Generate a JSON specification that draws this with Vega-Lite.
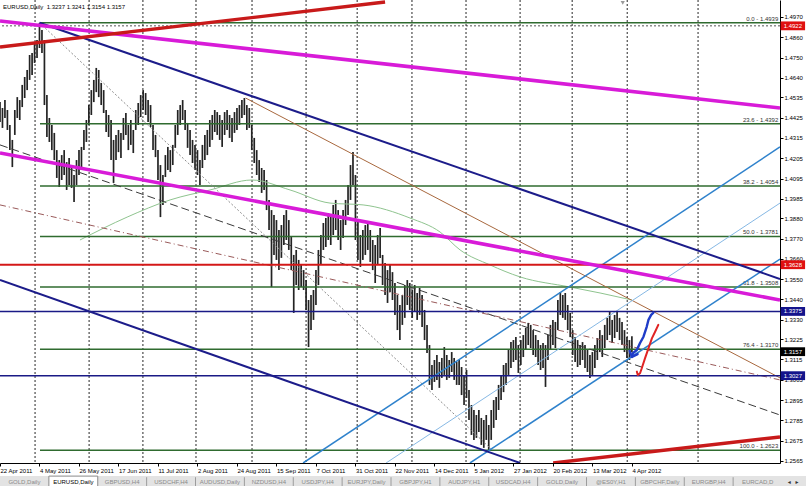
{
"$schema":"https://vega.github.io/schema/vega-lite/v6.json",
"width":780,"height":463,
"autosize":{"type":"none"},
"padding":{"left":0,"top":0,"right":26,"bottom":23},
"background":"white",
"config":{"view":{"stroke":null},"font":"Liberation Sans"},
"datasets":{
"bars":[{"n":0,"h":1.4509,"l":1.4401},{"n":1,"h":1.4477,"l":1.4369},{"n":2,"h":1.452,"l":1.4423},{"n":3,"h":1.4466,"l":1.4358},{"n":4,"h":1.4385,"l":1.4249},{"n":5,"h":1.4304,"l":1.4157},{"n":6,"h":1.4466,"l":1.4331},{"n":7,"h":1.4536,"l":1.4423},{"n":8,"h":1.452,"l":1.4412},{"n":9,"h":1.4602,"l":1.4482},{"n":10,"h":1.4645,"l":1.4531},{"n":11,"h":1.4683,"l":1.4574},{"n":12,"h":1.4764,"l":1.4629},{"n":13,"h":1.4775,"l":1.4656},{"n":14,"h":1.4834,"l":1.4721},{"n":15,"h":1.4845,"l":1.4748},{"n":16,"h":1.4938,"l":1.4802},{"n":17,"h":1.49,"l":1.4775},{"n":18,"h":1.4845,"l":1.4493},{"n":19,"h":1.4547,"l":1.432},{"n":20,"h":1.4423,"l":1.4293},{"n":21,"h":1.4385,"l":1.4249},{"n":22,"h":1.4342,"l":1.4195},{"n":23,"h":1.4249,"l":1.4098},{"n":24,"h":1.4195,"l":1.4049},{"n":25,"h":1.4222,"l":1.4087},{"n":26,"h":1.4249,"l":1.4114},{"n":27,"h":1.4184,"l":1.4033},{"n":28,"h":1.4206,"l":1.406},{"n":29,"h":1.4168,"l":1.4044},{"n":30,"h":1.4114,"l":1.3968},{"n":31,"h":1.4195,"l":1.406},{"n":32,"h":1.4249,"l":1.4114},{"n":33,"h":1.4266,"l":1.4141},{"n":34,"h":1.4358,"l":1.4249},{"n":35,"h":1.4412,"l":1.4293},{"n":36,"h":1.4493,"l":1.4385},{"n":37,"h":1.4574,"l":1.4439},{"n":38,"h":1.4629,"l":1.4509},{"n":39,"h":1.4694,"l":1.4563},{"n":40,"h":1.4683,"l":1.4536},{"n":41,"h":1.4613,"l":1.4493},{"n":42,"h":1.4574,"l":1.445},{"n":43,"h":1.4466,"l":1.4347},{"n":44,"h":1.4439,"l":1.432},{"n":45,"h":1.4412,"l":1.4195},{"n":46,"h":1.4304,"l":1.4071},{"n":47,"h":1.4331,"l":1.4195},{"n":48,"h":1.4358,"l":1.4238},{"n":49,"h":1.4342,"l":1.4206},{"n":50,"h":1.4423,"l":1.4304},{"n":51,"h":1.445,"l":1.4331},{"n":52,"h":1.4385,"l":1.4249},{"n":53,"h":1.4412,"l":1.4277},{"n":54,"h":1.4358,"l":1.4233},{"n":55,"h":1.4466,"l":1.4358},{"n":56,"h":1.4504,"l":1.4385},{"n":57,"h":1.4547,"l":1.4428},{"n":58,"h":1.4574,"l":1.4466},{"n":59,"h":1.4558,"l":1.4439},{"n":60,"h":1.452,"l":1.4401},{"n":61,"h":1.4493,"l":1.4374},{"n":62,"h":1.4385,"l":1.4249},{"n":63,"h":1.4331,"l":1.4211},{"n":64,"h":1.4249,"l":1.4087},{"n":65,"h":1.4168,"l":1.3886},{"n":66,"h":1.4114,"l":1.3952},{"n":67,"h":1.4222,"l":1.4103},{"n":68,"h":1.4266,"l":1.4141},{"n":69,"h":1.4249,"l":1.413},{"n":70,"h":1.4277,"l":1.4168},{"n":71,"h":1.4385,"l":1.4261},{"n":72,"h":1.4466,"l":1.4331},{"n":73,"h":1.4493,"l":1.4385},{"n":74,"h":1.452,"l":1.4412},{"n":75,"h":1.4466,"l":1.4358},{"n":76,"h":1.4396,"l":1.4261},{"n":77,"h":1.4358,"l":1.4222},{"n":78,"h":1.4304,"l":1.4179},{"n":79,"h":1.4277,"l":1.4141},{"n":80,"h":1.4249,"l":1.4114},{"n":81,"h":1.4195,"l":1.406},{"n":82,"h":1.4277,"l":1.4152},{"n":83,"h":1.4331,"l":1.4195},{"n":84,"h":1.4358,"l":1.4222},{"n":85,"h":1.4412,"l":1.4266},{"n":86,"h":1.4439,"l":1.4304},{"n":87,"h":1.4466,"l":1.4347},{"n":88,"h":1.4455,"l":1.4331},{"n":89,"h":1.4439,"l":1.4304},{"n":90,"h":1.4412,"l":1.4266},{"n":91,"h":1.4455,"l":1.4331},{"n":92,"h":1.4466,"l":1.4358},{"n":93,"h":1.4439,"l":1.4315},{"n":94,"h":1.4423,"l":1.4293},{"n":95,"h":1.4455,"l":1.4342},{"n":96,"h":1.4477,"l":1.4358},{"n":97,"h":1.4493,"l":1.4385},{"n":98,"h":1.452,"l":1.4423},{"n":99,"h":1.4531,"l":1.4439},{"n":100,"h":1.4493,"l":1.4358},{"n":101,"h":1.4477,"l":1.4369},{"n":102,"h":1.4385,"l":1.4249},{"n":103,"h":1.4315,"l":1.4179},{"n":104,"h":1.4249,"l":1.4114},{"n":105,"h":1.4195,"l":1.4076},{"n":106,"h":1.4152,"l":1.4017},{"n":107,"h":1.4141,"l":1.4033},{"n":108,"h":1.4087,"l":1.3924},{"n":109,"h":1.3979,"l":1.3816},{"n":110,"h":1.3924,"l":1.3507},{"n":111,"h":1.3897,"l":1.3681},{"n":112,"h":1.387,"l":1.3654},{"n":113,"h":1.3816,"l":1.3599},{"n":114,"h":1.3843,"l":1.3665},{"n":115,"h":1.3897,"l":1.3735},{"n":116,"h":1.3924,"l":1.3762},{"n":117,"h":1.387,"l":1.3708},{"n":118,"h":1.3778,"l":1.3599},{"n":119,"h":1.3681,"l":1.3367},{"n":120,"h":1.3708,"l":1.3518},{"n":121,"h":1.3654,"l":1.3491},{"n":122,"h":1.3627,"l":1.3507},{"n":123,"h":1.3599,"l":1.3491},{"n":124,"h":1.3545,"l":1.3383},{"n":125,"h":1.3437,"l":1.3182},{"n":126,"h":1.3464,"l":1.3274},{"n":127,"h":1.3491,"l":1.3329},{"n":128,"h":1.3599,"l":1.341},{"n":129,"h":1.3708,"l":1.3518},{"n":130,"h":1.3789,"l":1.3627},{"n":131,"h":1.3854,"l":1.3708},{"n":132,"h":1.3881,"l":1.3724},{"n":133,"h":1.3908,"l":1.3762},{"n":134,"h":1.3897,"l":1.3735},{"n":135,"h":1.3952,"l":1.3789},{"n":136,"h":1.3979,"l":1.3816},{"n":137,"h":1.3924,"l":1.3762},{"n":138,"h":1.387,"l":1.3708},{"n":139,"h":1.3924,"l":1.3773},{"n":140,"h":1.3979,"l":1.3843},{"n":141,"h":1.406,"l":1.3897},{"n":142,"h":1.4168,"l":1.3979},{"n":143,"h":1.4238,"l":1.406},{"n":144,"h":1.4114,"l":1.3762},{"n":145,"h":1.387,"l":1.3654},{"n":146,"h":1.3789,"l":1.3616},{"n":147,"h":1.3816,"l":1.3654},{"n":148,"h":1.3843,"l":1.3681},{"n":149,"h":1.3854,"l":1.3708},{"n":150,"h":1.3816,"l":1.3643},{"n":151,"h":1.3762,"l":1.3599},{"n":152,"h":1.3735,"l":1.3529},{"n":153,"h":1.3789,"l":1.3627},{"n":154,"h":1.3827,"l":1.3665},{"n":155,"h":1.3681,"l":1.3518},{"n":156,"h":1.3638,"l":1.3464},{"n":157,"h":1.3599,"l":1.3421},{"n":158,"h":1.3627,"l":1.348},{"n":159,"h":1.3588,"l":1.3437},{"n":160,"h":1.3529,"l":1.3356},{"n":161,"h":1.3464,"l":1.3274},{"n":162,"h":1.341,"l":1.322},{"n":163,"h":1.3464,"l":1.3302},{"n":164,"h":1.3518,"l":1.334},{"n":165,"h":1.3545,"l":1.341},{"n":166,"h":1.3529,"l":1.3383},{"n":167,"h":1.3491,"l":1.334},{"n":168,"h":1.3518,"l":1.3372},{"n":169,"h":1.3475,"l":1.3329},{"n":170,"h":1.3502,"l":1.3356},{"n":171,"h":1.3464,"l":1.3291},{"n":172,"h":1.3383,"l":1.322},{"n":173,"h":1.3302,"l":1.315},{"n":174,"h":1.3193,"l":1.2977},{"n":175,"h":1.3085,"l":1.2949},{"n":176,"h":1.3112,"l":1.2993},{"n":177,"h":1.3139,"l":1.3004},{"n":178,"h":1.3101,"l":1.2961},{"n":179,"h":1.3123,"l":1.3015},{"n":180,"h":1.3182,"l":1.3031},{"n":181,"h":1.3139,"l":1.3004},{"n":182,"h":1.3112,"l":1.3015},{"n":183,"h":1.3155,"l":1.3047},{"n":184,"h":1.3123,"l":1.3004},{"n":185,"h":1.3101,"l":1.2977},{"n":186,"h":1.3112,"l":1.2977},{"n":187,"h":1.3074,"l":1.2922},{"n":188,"h":1.3031,"l":1.2868},{"n":189,"h":1.3058,"l":1.2906},{"n":190,"h":1.2949,"l":1.2787},{"n":191,"h":1.2868,"l":1.2706},{"n":192,"h":1.2841,"l":1.2679},{"n":193,"h":1.2814,"l":1.269},{"n":194,"h":1.2841,"l":1.2722},{"n":195,"h":1.2798,"l":1.2652},{"n":196,"h":1.2787,"l":1.2636},{"n":197,"h":1.2814,"l":1.2679},{"n":198,"h":1.276,"l":1.2623},{"n":199,"h":1.2841,"l":1.2679},{"n":200,"h":1.2895,"l":1.2744},{"n":201,"h":1.2911,"l":1.2787},{"n":202,"h":1.2977,"l":1.2841},{"n":203,"h":1.3031,"l":1.2895},{"n":204,"h":1.3085,"l":1.2938},{"n":205,"h":1.3096,"l":1.2977},{"n":206,"h":1.3166,"l":1.3031},{"n":207,"h":1.3209,"l":1.3069},{"n":208,"h":1.322,"l":1.3101},{"n":209,"h":1.3236,"l":1.3112},{"n":210,"h":1.3193,"l":1.3042},{"n":211,"h":1.322,"l":1.3085},{"n":212,"h":1.3247,"l":1.3128},{"n":213,"h":1.3286,"l":1.3166},{"n":214,"h":1.3313,"l":1.3193},{"n":215,"h":1.3302,"l":1.3177},{"n":216,"h":1.3274,"l":1.3139},{"n":217,"h":1.3247,"l":1.3128},{"n":218,"h":1.322,"l":1.3085},{"n":219,"h":1.3193,"l":1.3058},{"n":220,"h":1.3204,"l":1.3069},{"n":221,"h":1.3193,"l":1.2966},{"n":222,"h":1.3247,"l":1.3112},{"n":223,"h":1.3302,"l":1.3166},{"n":224,"h":1.3329,"l":1.3193},{"n":225,"h":1.3318,"l":1.3177},{"n":226,"h":1.3437,"l":1.3274},{"n":227,"h":1.348,"l":1.3356},{"n":228,"h":1.3464,"l":1.334},{"n":229,"h":1.3475,"l":1.3329},{"n":230,"h":1.341,"l":1.3274},{"n":231,"h":1.3367,"l":1.3236},{"n":232,"h":1.3274,"l":1.3139},{"n":233,"h":1.3236,"l":1.3101},{"n":234,"h":1.322,"l":1.3074},{"n":235,"h":1.3193,"l":1.3085},{"n":236,"h":1.3209,"l":1.3112},{"n":237,"h":1.3193,"l":1.3069},{"n":238,"h":1.3166,"l":1.3047},{"n":239,"h":1.3139,"l":1.3015},{"n":240,"h":1.3155,"l":1.3031},{"n":241,"h":1.3193,"l":1.3069},{"n":242,"h":1.3231,"l":1.3112},{"n":243,"h":1.3274,"l":1.3155},{"n":244,"h":1.3247,"l":1.3128},{"n":245,"h":1.3302,"l":1.3177},{"n":246,"h":1.334,"l":1.322},{"n":247,"h":1.3372,"l":1.3247},{"n":248,"h":1.3329,"l":1.3204},{"n":249,"h":1.3356,"l":1.3231},{"n":250,"h":1.3372,"l":1.3263},{"n":251,"h":1.334,"l":1.322},{"n":252,"h":1.3318,"l":1.3193},{"n":253,"h":1.3274,"l":1.3155},{"n":254,"h":1.3236,"l":1.3123},{"n":255,"h":1.322,"l":1.3112},{"n":256,"h":1.3241,"l":1.3154}],
"grid":[{"n":14.2},{"n":36.1},{"n":57.9},{"n":79.4},{"n":102.1},{"n":124.0},{"n":144.7},{"n":166.9},{"n":188.8},{"n":210.7},{"n":231.8},{"n":254.1},{"n":282.8}],
"ma":[{"n":32.4,"p":1.3762},{"n":51.5,"p":1.3886},{"n":68.9,"p":1.3979},{"n":85.1,"p":1.4033},{"n":102.1,"p":1.4087},{"n":117.5,"p":1.4033},{"n":133.7,"p":1.3962},{"n":147.1,"p":1.3952},{"n":166.1,"p":1.3881},{"n":178.3,"p":1.3805},{"n":186.4,"p":1.3708},{"n":198.5,"p":1.3627},{"n":210.7,"p":1.3562},{"n":231,"p":1.3507},{"n":243.1,"p":1.3475},{"n":256,"p":1.3437}],
"fib":[{"lab":"0.0 - 1.4939","p":1.4939},{"lab":"23.6 - 1.4392","p":1.4392},{"lab":"38.2 - 1.4054","p":1.4054},{"lab":"50.0 - 1.3781","p":1.3781},{"lab":"61.8 - 1.3508","p":1.3508},{"lab":"76.4 - 1.3170","p":1.317},{"lab":"100.0 - 1.2623","p":1.2623}],
"levels":[{"p":1.4922,"kind":"dot"},{"p":1.3628,"kind":"red"},{"p":1.3375,"kind":"navy"},{"p":1.3027,"kind":"navy"}],
"trend":[{"id":"redTop","n1":0,"p1":1.4807,"n2":156,"p2":1.5051},{"id":"redBot","n1":224.1,"p1":1.2554,"n2":316,"p2":1.2695},{"id":"magTop","n1":0,"p1":1.4948,"n2":316,"p2":1.4477},{"id":"magBot","n1":0,"p1":1.4233,"n2":316,"p2":1.3437},{"id":"navyUp","n1":16,"p1":1.4939,"n2":316,"p2":1.3551},{"id":"navyLow","n1":0,"p1":1.3545,"n2":210.7,"p2":1.2554},{"id":"chanTop","n1":122.8,"p1":1.2554,"n2":316,"p2":1.4266},{"id":"chanMid","n1":156.4,"p1":1.2554,"n2":316,"p2":1.3962},{"id":"chanLow","n1":190.4,"p1":1.2554,"n2":316,"p2":1.3659},{"id":"brown","n1":99.5,"p1":1.4531,"n2":316,"p2":1.3015},{"id":"dash","n1":0,"p1":1.4277,"n2":316,"p2":1.2814},{"id":"dashdot","n1":0,"p1":1.3952,"n2":316,"p2":1.3004},{"id":"dotted","n1":16,"p1":1.4939,"n2":199.5,"p2":1.2623}],
"drawn":[{"id":"blue","k":0,"n":256.0,"p":1.313},{"id":"blue","k":1,"n":256.5,"p":1.315},{"id":"blue","k":2,"n":258.0,"p":1.3166},{"id":"blue","k":3,"n":259.3,"p":1.3204},{"id":"blue","k":4,"n":260.7,"p":1.3238},{"id":"blue","k":5,"n":262.0,"p":1.3292},{"id":"blue","k":6,"n":262.7,"p":1.3329},{"id":"blue","k":7,"n":263.8,"p":1.3356},{"id":"blue","k":8,"n":264.7,"p":1.3368},{"id":"arrow","k":0,"n":255.1,"p":1.3161},{"id":"arrow","k":1,"n":256.0,"p":1.3128},{"id":"arrow","k":2,"n":258.3,"p":1.3144},{"id":"red","k":0,"n":258.0,"p":1.3049},{"id":"red","k":1,"n":258.4,"p":1.3031},{"id":"red","k":2,"n":259.3,"p":1.304},{"id":"red","k":3,"n":260.0,"p":1.3067},{"id":"red","k":4,"n":261.3,"p":1.3121},{"id":"red","k":5,"n":262.7,"p":1.3175},{"id":"red","k":6,"n":264.1,"p":1.3229},{"id":"red","k":7,"n":265.4,"p":1.3265},{"id":"red","k":8,"n":266.7,"p":1.3302}],
"tags":[{"p":1.4922,"kind":"r"},{"p":1.3628,"kind":"r"},{"p":1.3375,"kind":"b"},{"p":1.3157,"kind":"k"},{"p":1.3027,"kind":"b"}],
"tabs":[{"i":0,"name":"GOLD,Daily"},{"i":1,"name":"EURUSD,Daily"},{"i":2,"name":"GBPUSD,H4"},{"i":3,"name":"USDCHF,H4"},{"i":4,"name":"AUDUSD,Daily"},{"i":5,"name":"NZDUSD,H4"},{"i":6,"name":"USDJPY,H4"},{"i":7,"name":"EURJPY,Daily"},{"i":8,"name":"GBPJPY,H1"},{"i":9,"name":"AUDJPY,H1"},{"i":10,"name":"USDCAD,H4"},{"i":11,"name":"GOLD,Daily"},{"i":12,"name":"@ES0Y,H1"},{"i":13,"name":"GBPCHF,Daily"},{"i":14,"name":"EURGBP,H4"},{"i":15,"name":"EURCAD,D"}]
},
"resolve":{"scale":{"x":"independent","y":"independent"}},
"layer":[
 {"data":{"name":"levels"},"transform":[{"filter":"datum.kind=='dot'"}],"mark":{"type":"rule","color":"#555555","strokeDash":[2,2],"strokeWidth":1},
  "encoding":{"y":{"field":"p","type":"quantitative","scale":{"domain":[1.2554,1.5062],"nice":false,"zero":false},
    "axis":{"title":null,"orient":"right","values":[1.497,1.486,1.475,1.464,1.4535,1.4425,1.4315,1.4205,1.4095,1.3985,1.388,1.377,1.366,1.355,1.344,1.333,1.3225,1.3115,1.3005,1.2895,1.2785,1.2675,1.2565],
     "format":".4f","labelFontSize":6,"labelColor":"#000000","labelPadding":1,"tickSize":3,"tickColor":"#000000","domainColor":"#000000","grid":false,"labelOverlap":false,"labelFlush":false,"labelBound":false}}}},
 {"data":{"name":"grid"},"mark":{"type":"rule","strokeDash":[2,2],"color":"#000000","strokeWidth":1,"opacity":0.85},
  "encoding":{"x":{"field":"n","type":"quantitative","scale":{"domain":[0,316],"nice":false,"zero":false},
   "axis":{"title":null,"orient":"bottom","values":[0,16,32,48,64,80,96,112,128,144,160,176,192,208,224,240,256],
    "labelExpr":"['22 Apr 2011','4 May 2011','26 May 2011','17 Jun 2011','11 Jul 2011','2 Aug 2011','24 Aug 2011','15 Sep 2011','7 Oct 2011','31 Oct 2011','22 Nov 2011','14 Dec 2011','5 Jan 2012','27 Jan 2012','20 Feb 2012','13 Mar 2012','4 Apr 2012'][round(datum.value/16)]",
    "labelAlign":"left","labelFontSize":6,"labelColor":"#000000","labelPadding":1,"tickSize":3,"tickColor":"#000000","domainColor":"#000000","grid":false,"labelOverlap":false,"labelFlush":false,"labelBound":false}}}},
 {"data":{"values":[{}]},"mark":{"type":"rect","fill":"#e3e3e3","clip":false},
  "encoding":{"x":{"datum":-2,"type":"quantitative","scale":{"domain":[0,316],"nice":false,"zero":false},"axis":null},"x2":{"datum":328},"y":{"datum":1.2483,"type":"quantitative","scale":{"domain":[1.2554,1.5062],"nice":false,"zero":false},"axis":null},"y2":{"datum":1.239}}},
 {"data":{"name":"bars"},"mark":{"type":"rule","color":"#232323","strokeWidth":1.7},
  "encoding":{"x":{"field":"n","type":"quantitative","scale":{"domain":[0,316],"nice":false,"zero":false},"axis":null},
   "y":{"field":"h","type":"quantitative","scale":{"domain":[1.2554,1.5062],"nice":false,"zero":false},"axis":null},"y2":{"field":"l"}}},
 {"data":{"name":"ma"},"mark":{"type":"line","color":"#8fc48f","strokeWidth":1,"interpolate":"monotone"},
  "encoding":{"x":{"field":"n","type":"quantitative","scale":{"domain":[0,316],"nice":false,"zero":false},"axis":null},"y":{"field":"p","type":"quantitative","scale":{"domain":[1.2554,1.5062],"nice":false,"zero":false},"axis":null}}},
 {"data":{"name":"fib"},"mark":{"type":"rule","color":"#2f6b2f","strokeWidth":1.5},
  "encoding":{"x":{"datum":16.2,"type":"quantitative","scale":{"domain":[0,316],"nice":false,"zero":false},"axis":null},"x2":{"datum":316},"y":{"field":"p","type":"quantitative","scale":{"domain":[1.2554,1.5062],"nice":false,"zero":false},"axis":null}}},
 {"data":{"name":"fib"},"mark":{"type":"text","fontSize":6,"align":"right","baseline":"bottom","dy":-1,"color":"#333333"},
  "encoding":{"x":{"datum":315.3,"type":"quantitative","scale":{"domain":[0,316],"nice":false,"zero":false},"axis":null},"y":{"field":"p","type":"quantitative","scale":{"domain":[1.2554,1.5062],"nice":false,"zero":false},"axis":null},"text":{"field":"lab"}}},
 {"data":{"name":"trend"},"transform":[{"filter":{"field":"id","oneOf":["dotted"]}}],"mark":{"type":"rule","color":"#8c8c8c","strokeWidth":1,"strokeDash":[2,2],"clip":true},
  "encoding":{"x":{"field":"n1","type":"quantitative","scale":{"domain":[0,316],"nice":false,"zero":false},"axis":null},"y":{"field":"p1","type":"quantitative","scale":{"domain":[1.2554,1.5062],"nice":false,"zero":false},"axis":null},"x2":{"field":"n2"},"y2":{"field":"p2"}}},
 {"data":{"name":"trend"},"transform":[{"filter":{"field":"id","oneOf":["dash"]}}],"mark":{"type":"rule","color":"#3a3a3a","strokeWidth":1,"strokeDash":[8,4],"clip":true},
  "encoding":{"x":{"field":"n1","type":"quantitative","scale":{"domain":[0,316],"nice":false,"zero":false},"axis":null},"y":{"field":"p1","type":"quantitative","scale":{"domain":[1.2554,1.5062],"nice":false,"zero":false},"axis":null},"x2":{"field":"n2"},"y2":{"field":"p2"}}},
 {"data":{"name":"trend"},"transform":[{"filter":{"field":"id","oneOf":["dashdot"]}}],"mark":{"type":"rule","color":"#9a5a5a","strokeWidth":1,"strokeDash":[6,3,1,3],"clip":true},
  "encoding":{"x":{"field":"n1","type":"quantitative","scale":{"domain":[0,316],"nice":false,"zero":false},"axis":null},"y":{"field":"p1","type":"quantitative","scale":{"domain":[1.2554,1.5062],"nice":false,"zero":false},"axis":null},"x2":{"field":"n2"},"y2":{"field":"p2"}}},
 {"data":{"name":"trend"},"transform":[{"filter":{"field":"id","oneOf":["brown"]}}],"mark":{"type":"rule","color":"#a8683e","strokeWidth":1,"clip":true},
  "encoding":{"x":{"field":"n1","type":"quantitative","scale":{"domain":[0,316],"nice":false,"zero":false},"axis":null},"y":{"field":"p1","type":"quantitative","scale":{"domain":[1.2554,1.5062],"nice":false,"zero":false},"axis":null},"x2":{"field":"n2"},"y2":{"field":"p2"}}},
 {"data":{"name":"trend"},"transform":[{"filter":{"field":"id","oneOf":["chanMid"]}}],"mark":{"type":"rule","color":"#86b8e4","strokeWidth":1,"clip":true},
  "encoding":{"x":{"field":"n1","type":"quantitative","scale":{"domain":[0,316],"nice":false,"zero":false},"axis":null},"y":{"field":"p1","type":"quantitative","scale":{"domain":[1.2554,1.5062],"nice":false,"zero":false},"axis":null},"x2":{"field":"n2"},"y2":{"field":"p2"}}},
 {"data":{"name":"trend"},"transform":[{"filter":{"field":"id","oneOf":["chanTop","chanLow"]}}],"mark":{"type":"rule","color":"#2f82cc","strokeWidth":1.5,"clip":true},
  "encoding":{"x":{"field":"n1","type":"quantitative","scale":{"domain":[0,316],"nice":false,"zero":false},"axis":null},"y":{"field":"p1","type":"quantitative","scale":{"domain":[1.2554,1.5062],"nice":false,"zero":false},"axis":null},"x2":{"field":"n2"},"y2":{"field":"p2"}}},
 {"data":{"name":"levels"},"transform":[{"filter":"datum.kind=='navy'"}],"mark":{"type":"rule","color":"#1a1a86","strokeWidth":1.6},
  "encoding":{"y":{"field":"p","type":"quantitative","scale":{"domain":[1.2554,1.5062],"nice":false,"zero":false},"axis":null}}},
 {"data":{"name":"levels"},"transform":[{"filter":"datum.kind=='red'"}],"mark":{"type":"rule","color":"#d41818","strokeWidth":2.2},
  "encoding":{"y":{"field":"p","type":"quantitative","scale":{"domain":[1.2554,1.5062],"nice":false,"zero":false},"axis":null}}},
 {"data":{"name":"trend"},"transform":[{"filter":{"field":"id","oneOf":["navyUp","navyLow"]}}],"mark":{"type":"rule","color":"#1c1c8a","strokeWidth":2,"clip":true},
  "encoding":{"x":{"field":"n1","type":"quantitative","scale":{"domain":[0,316],"nice":false,"zero":false},"axis":null},"y":{"field":"p1","type":"quantitative","scale":{"domain":[1.2554,1.5062],"nice":false,"zero":false},"axis":null},"x2":{"field":"n2"},"y2":{"field":"p2"}}},
 {"data":{"name":"trend"},"transform":[{"filter":{"field":"id","oneOf":["magTop","magBot"]}}],"mark":{"type":"rule","color":"#d81bd8","strokeWidth":3.6,"clip":true},
  "encoding":{"x":{"field":"n1","type":"quantitative","scale":{"domain":[0,316],"nice":false,"zero":false},"axis":null},"y":{"field":"p1","type":"quantitative","scale":{"domain":[1.2554,1.5062],"nice":false,"zero":false},"axis":null},"x2":{"field":"n2"},"y2":{"field":"p2"}}},
 {"data":{"name":"trend"},"transform":[{"filter":{"field":"id","oneOf":["redTop","redBot"]}}],"mark":{"type":"rule","color":"#c81a1a","strokeWidth":3.4,"clip":true},
  "encoding":{"x":{"field":"n1","type":"quantitative","scale":{"domain":[0,316],"nice":false,"zero":false},"axis":null},"y":{"field":"p1","type":"quantitative","scale":{"domain":[1.2554,1.5062],"nice":false,"zero":false},"axis":null},"x2":{"field":"n2"},"y2":{"field":"p2"}}},
 {"data":{"name":"drawn"},"transform":[{"filter":{"field":"id","oneOf":["blue","arrow"]}}],"mark":{"type":"line","color":"#1f3cc8","strokeWidth":2.4,"strokeCap":"round","strokeJoin":"round"},
  "encoding":{"x":{"field":"n","type":"quantitative","scale":{"domain":[0,316],"nice":false,"zero":false},"axis":null},"y":{"field":"p","type":"quantitative","scale":{"domain":[1.2554,1.5062],"nice":false,"zero":false},"axis":null},"detail":{"field":"id"},"order":{"field":"k"}}},
 {"data":{"name":"drawn"},"transform":[{"filter":{"field":"id","oneOf":["red"]}}],"mark":{"type":"line","color":"#e02424","strokeWidth":2,"strokeCap":"round","strokeJoin":"round"},
  "encoding":{"x":{"field":"n","type":"quantitative","scale":{"domain":[0,316],"nice":false,"zero":false},"axis":null},"y":{"field":"p","type":"quantitative","scale":{"domain":[1.2554,1.5062],"nice":false,"zero":false},"axis":null},"order":{"field":"k"}}},
 {"data":{"name":"tags"},"mark":{"type":"point","filled":true,"opacity":1,"shape":"M-1,-0.36H1V0.36H-1Z","size":600,"clip":false},
  "encoding":{"x":{"datum":321.2,"type":"quantitative","scale":{"domain":[0,316],"nice":false,"zero":false},"axis":null},"y":{"field":"p","type":"quantitative","scale":{"domain":[1.2554,1.5062],"nice":false,"zero":false},"axis":null},
   "color":{"field":"kind","type":"nominal","scale":{"domain":["r","b","k"],"range":["#e01010","#14148c","#000000"]},"legend":null}}},
 {"data":{"name":"tags"},"mark":{"type":"text","fontSize":6,"color":"#ffffff","baseline":"middle","align":"center","clip":false},
  "encoding":{"x":{"datum":321.2,"type":"quantitative","scale":{"domain":[0,316],"nice":false,"zero":false},"axis":null},"y":{"field":"p","type":"quantitative","scale":{"domain":[1.2554,1.5062],"nice":false,"zero":false},"axis":null},"text":{"field":"p","format":".4f"}}},
 {"data":{"values":[{"t":"EURUSD,Daily\u00a0\u00a01.3237 1.3241 1.3154 1.3157"}]},"mark":{"type":"text","fontSize":6,"align":"left","baseline":"middle","color":"#000000"},
  "encoding":{"x":{"datum":1.2,"type":"quantitative","scale":{"domain":[0,316],"nice":false,"zero":false},"axis":null},"y":{"datum":1.5024,"type":"quantitative","scale":{"domain":[1.2554,1.5062],"nice":false,"zero":false},"axis":null},"text":{"field":"t"}}},
 {"data":{"values":[{"t":"\u25c4\u00a0\u00a0\u25ba"}]},"mark":{"type":"text","fontSize":5,"align":"center","baseline":"middle","color":"#333333","clip":false},
  "encoding":{"x":{"datum":321.3,"type":"quantitative","scale":{"domain":[0,316],"nice":false,"zero":false},"axis":null},"y":{"datum":1.2451,"type":"quantitative","scale":{"domain":[1.2554,1.5062],"nice":false,"zero":false},"axis":null},"text":{"field":"t"}}},
 {"data":{"values":[{}]},"mark":{"type":"point","shape":"triangle-down","filled":true,"size":18,"color":"#9a9a9a","opacity":1},
  "encoding":{"x":{"datum":252.3,"type":"quantitative","scale":{"domain":[0,316],"nice":false,"zero":false},"axis":null},"y":{"datum":1.5046,"type":"quantitative","scale":{"domain":[1.2554,1.5062],"nice":false,"zero":false},"axis":null}}},
 {"data":{"name":"tabs"},"transform":[{"filter":"datum.i==1"}],"mark":{"type":"rect","fill":"#ffffff","stroke":"#8a8a8a","strokeWidth":1,"clip":false},
  "encoding":{"x":{"field":"i","type":"ordinal","scale":{"type":"band","domain":[0,1,2,3,4,5,6,7,8,9,10,11,12,13,14,15],"range":[0,782],"paddingInner":0,"paddingOuter":0},"axis":null},"y":{"datum":1.2483,"type":"quantitative","scale":{"domain":[1.2554,1.5062],"nice":false,"zero":false},"axis":null},"y2":{"datum":1.241}}},
 {"data":{"name":"tabs"},"transform":[{"filter":"datum.i>2"}],"mark":{"type":"rule","color":"#9c9c9c","strokeWidth":1},
  "encoding":{"x":{"field":"i","type":"ordinal","bandPosition":0,"scale":{"type":"band","domain":[0,1,2,3,4,5,6,7,8,9,10,11,12,13,14,15],"range":[0,782],"paddingInner":0,"paddingOuter":0},"axis":null},"y":{"datum":1.2477,"type":"quantitative","scale":{"domain":[1.2554,1.5062],"nice":false,"zero":false},"axis":null},"y2":{"datum":1.2427}}},
 {"data":{"name":"tabs"},"mark":{"type":"text","fontSize":6,"baseline":"middle","align":"center"},
  "encoding":{"x":{"field":"i","type":"ordinal","scale":{"type":"band","domain":[0,1,2,3,4,5,6,7,8,9,10,11,12,13,14,15],"range":[0,782],"paddingInner":0,"paddingOuter":0},"axis":null},"y":{"datum":1.2451,"type":"quantitative","scale":{"domain":[1.2554,1.5062],"nice":false,"zero":false},"axis":null},"text":{"field":"name"},
   "color":{"condition":{"test":"datum.i==1","value":"#000000"},"value":"#8a8a8a"}}}
]
}
